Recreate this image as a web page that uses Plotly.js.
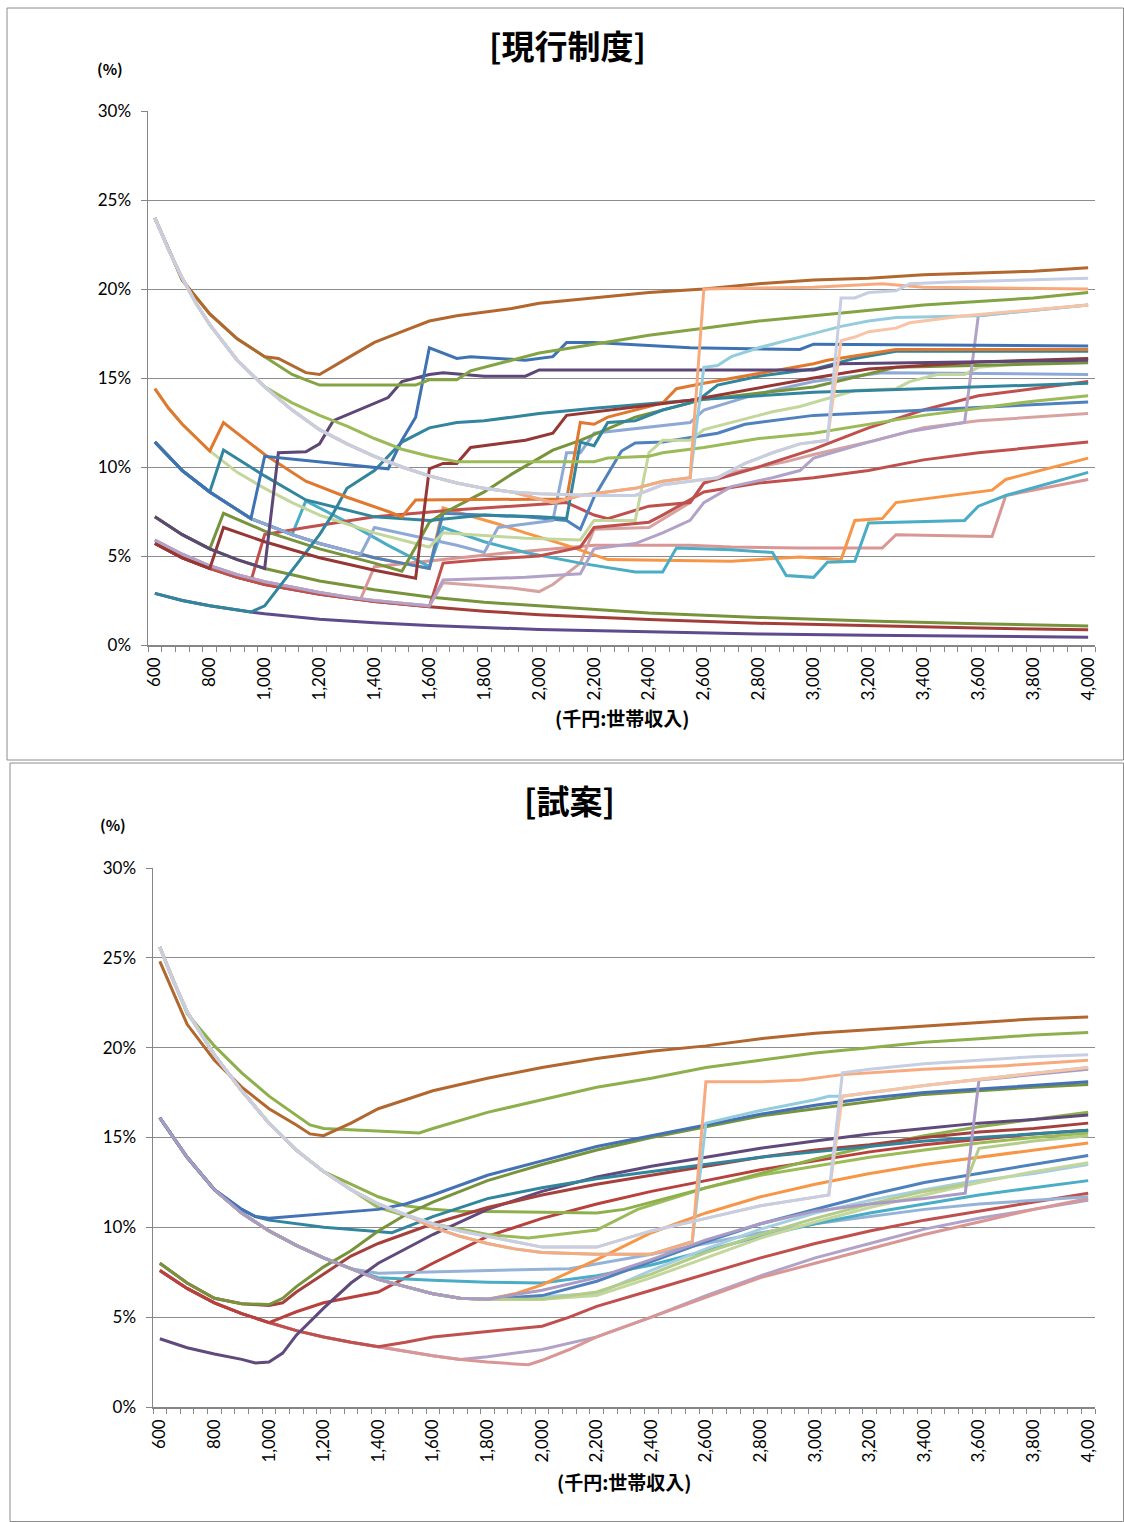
<!DOCTYPE html>
<html><head><meta charset="utf-8">
<script src="https://cdn.plot.ly/plotly-3.0.1.min.js"></script>
<style>html,body{margin:0;padding:0;background:#fff}#c{width:1124px;height:1522px}</style>
</head><body><div id="c"></div>
<script>
// ---------- shared tick labels ----------
const tickVals = [600,800,1000,1200,1400,1600,1800,2000,2200,2400,2600,2800,3000,3200,3400,3600,3800,4000];
const tickText = ["600","800","1,000","1,200","1,400","1,600","1,800","2,000","2,200","2,400","2,600","2,800","3,000","3,200","3,400","3,600","3,800","4,000"];

// ---------- TOP chart (現行制度): common starting curves, [income, %] ----------
const TA = [[600,24.0],[650,22.2],[700,20.6],[750,19.2],[800,18.0],[900,16.0],[1000,14.5],[1100,13.2],[1200,12.1],[1300,11.3],[1400,10.6],[1500,10.0],[1600,9.5],[1700,9.1],[1800,8.8],[1900,8.6],[2000,8.5]];
const TB = [[600,14.4],[650,13.3],[700,12.4],[800,10.9],[900,9.7],[1000,8.8],[1100,8.0],[1200,7.3],[1300,6.8],[1400,6.3],[1500,5.9],[1600,5.5]];
const TC = [[600,11.4],[700,9.8],[800,8.6],[900,7.6],[950,7.1],[1000,6.8],[1100,6.2],[1200,5.7],[1300,5.3],[1350,5.1],[1400,4.9],[1500,4.6],[1600,4.3]];
const TD = [[600,7.2],[700,6.2],[800,5.4],[900,4.8],[1000,4.3],[1200,3.6],[1400,3.1],[1600,2.7],[1800,2.4],[2000,2.2],[2400,1.8],[2800,1.55],[3200,1.35],[3600,1.2],[4000,1.07]];
const TE = [[600,5.9],[700,5.1],[800,4.45],[900,3.95],[1000,3.55],[1100,3.25],[1200,2.95],[1300,2.7],[1400,2.5],[1500,2.35],[1600,2.2]];
const TF = [[600,5.7],[700,4.9],[800,4.3],[900,3.8],[950,3.6],[1000,3.4],[1200,2.85],[1400,2.45],[1600,2.15],[1800,1.9],[2000,1.7],[2400,1.43],[2800,1.22],[3200,1.07],[3600,0.95],[4000,0.85]];
const TG = [[600,2.9],[700,2.5],[800,2.2],[900,1.95],[950,1.85],[1000,1.75],[1200,1.45],[1400,1.25],[1600,1.1],[2000,0.87],[2400,0.73],[2800,0.62],[3200,0.55],[3600,0.49],[4000,0.44]];

// branch tails of the top chart
const tBrown = [[600,24],[700,20.5],[800,18.6],[900,17.2],[1000,16.2],[1050,16.1],[1150,15.3],[1200,15.2],[1300,16.1],[1400,17.0],[1500,17.6],[1600,18.2],[1700,18.5],[1800,18.7],[1900,18.9],[2000,19.2],[2200,19.5],[2400,19.8],[2600,20.0],[2800,20.3],[3000,20.5],[3200,20.6],[3400,20.8],[3600,20.9],[3800,21.0],[4000,21.2]];
const tOlive = [[600,24],[700,20.5],[800,18.6],[900,17.2],[1000,16.2],[1100,15.2],[1150,14.9],[1200,14.6],[1550,14.6],[1600,14.9],[1700,14.9],[1750,15.4],[1900,16.0],[2000,16.4],[2200,16.9],[2400,17.4],[2600,17.8],[2800,18.2],[3000,18.5],[3200,18.8],[3400,19.1],[3600,19.3],[3800,19.5],[4000,19.8]];
const tGreyTail = [[2200,8.4],[2350,8.4],[2450,9.0],[2650,9.4],[2750,10.2],[2850,10.8],[2950,11.3],[3050,11.5],[3100,19.5],[3150,19.5],[3200,19.8],[3300,19.9],[3350,20.3],[3500,20.4],[4000,20.6]];
const tPeachTail = [[2000,8.2],[2050,8.0],[2150,8.4],[2350,8.8],[2450,9.2],[2550,9.4],[2600,20.0],[3000,20.1],[3250,20.3],[3400,20.1],[4000,20.0]];
const tLBlueTail = [[2000,8.2],[2050,8.0],[2150,8.4],[2350,8.8],[2450,9.2],[2550,9.4],[2600,15.6],[2650,15.7],[2700,16.2],[2800,16.7],[2900,17.1],[3000,17.5],[3100,17.9],[3200,18.2],[3300,18.4],[3600,18.5],[4000,19.1]];
const tLPeachTail = [[2200,8.4],[2350,8.4],[2450,9.0],[2650,9.4],[2750,10.2],[2850,10.8],[2950,11.3],[3050,11.5],[3100,17.1],[3150,17.3],[3200,17.6],[3300,17.8],[3350,18.1],[3550,18.5],[4000,19.1]];
const tGreenTail = [[1100,13.6],[1200,12.9],[1300,12.3],[1400,11.6],[1500,11.0],[1600,10.6],[1700,10.3],[2200,10.3],[2250,10.5],[2400,10.6],[2450,10.8],[2600,11.1],[2800,11.6],[3000,11.9],[3200,12.4],[3400,12.9],[3600,13.3],[3800,13.7],[4000,14.0]];
const tBlueTail = [[1000,10.6],[1200,10.3],[1450,9.9],[1500,11.5],[1550,12.8],[1600,16.7],[1700,16.1],[1750,16.2],[1950,16.0],[2050,16.2],[2100,17.0],[2200,17.0],[2550,16.7],[2950,16.6],[3000,16.9],[4000,16.8]];
const tDPurpleTail = [[1050,10.8],[1150,10.85],[1200,11.3],[1250,12.6],[1450,13.9],[1500,14.8],[1600,15.2],[1650,15.3],[1800,15.1],[1950,15.1],[2000,15.45],[3000,15.45],[3100,15.8],[4000,16.0]];
const tDRedTail = [[850,6.6],[1000,5.8],[1200,4.9],[1400,4.2],[1550,3.75],[1600,9.9],[1650,10.2],[1700,10.2],[1750,11.1],[1950,11.5],[2050,11.9],[2100,12.9],[2550,13.75],[3000,15.0],[3200,15.5],[3600,15.9],[4000,16.1]];
const tTeal1Tail = [[1000,2.2],[1100,4.2],[1200,6.2],[1250,7.4],[1300,8.8],[1400,9.8],[1500,11.4],[1600,12.2],[1700,12.5],[1800,12.6],[1900,12.8],[2000,13.0],[2200,13.3],[2600,13.8],[3000,14.2],[4000,14.7]];
const tTeal2Tail = [[850,10.95],[1000,9.5],[1150,8.15],[1400,7.2],[1600,7.0],[1800,7.3],[2000,7.2],[2100,7.1],[2150,11.4],[2200,11.2],[2250,12.5],[2350,12.6],[2450,13.2],[2550,13.6],[2600,14.0],[2650,14.6],[2800,15.1],[3000,15.5],[3150,16.1],[3300,16.5],[4000,16.5]];
const tOrangeDTail = [[850,12.5],[1000,10.7],[1150,9.2],[1300,8.3],[1450,7.5],[1500,7.2],[1550,8.15],[1950,8.2],[2100,8.2],[2150,12.5],[2200,12.4],[2250,12.8],[2450,13.6],[2500,14.4],[2600,14.7],[3000,15.8],[3050,16.0],[3300,16.6],[4000,16.6]];
const tPGreenTail = [[1650,6.3],[1950,6.0],[2150,5.9],[2200,7.0],[2350,7.0],[2400,10.8],[2450,11.5],[2550,11.5],[2600,12.1],[2700,12.5],[2850,13.1],[2950,13.4],[3150,14.3],[3300,14.4],[3350,14.8],[3450,15.2],[3550,15.2],[3600,15.6],[4000,16.1]];
const tLavTail = [[1650,3.65],[1950,3.8],[2150,4.0],[2200,5.4],[2350,5.7],[2450,6.3],[2550,7.0],[2600,8.0],[2700,8.9],[2850,9.4],[2950,9.8],[3000,10.5],[3200,11.4],[3350,12.0],[3550,12.5],[3600,18.5],[4000,19.1]];
const tOlive2Tail = [[850,7.4],[1000,6.4],[1200,5.4],[1400,4.6],[1500,4.15],[1550,5.5],[1600,6.9],[1650,7.4],[1800,8.6],[1900,9.6],[2050,10.95],[2150,11.5],[2350,12.8],[2600,13.8],[3000,14.5],[3300,15.6],[4000,15.85]];
const tAquaTail = [[1150,8.1],[1300,6.9],[1450,5.6],[1600,4.4],[1650,6.6],[1800,5.8],[1950,5.2],[2150,4.6],[2350,4.1],[2450,4.1],[2500,5.45],[2700,5.35],[2850,5.2],[2900,3.9],[3000,3.8],[3050,4.65],[3150,4.7],[3200,6.85],[3550,7.0],[3600,7.8],[3700,8.4],[4000,9.7]];
const tLOrangeTail = [[1650,7.7],[1850,6.8],[1950,6.3],[2100,5.6],[2250,4.8],[2700,4.7],[2950,4.95],[3100,4.8],[3150,7.0],[3250,7.1],[3300,8.0],[3650,8.7],[3700,9.3],[3950,10.3],[4000,10.5]];
const tPink1Tail = [[1350,2.6],[1400,4.4],[1900,5.2],[2200,5.6],[2550,5.6],[2700,5.5],[2950,5.45],[3250,5.45],[3300,6.2],[3650,6.1],[3700,8.4],[4000,9.3]];
const tPink2Tail = [[1650,3.5],[1900,3.2],[2000,3.0],[2050,3.4],[2150,4.6],[2200,6.5],[2400,6.6],[2550,8.0],[2600,9.1],[2700,9.7],[2900,10.3],[3000,10.7],[3200,11.4],[3400,12.2],[3600,12.6],[4000,13.0]];
const tPeriTail = [[1400,6.6],[1700,5.6],[1800,5.2],[1850,6.6],[2000,6.9],[2050,7.0],[2100,10.8],[2150,10.8],[2200,11.9],[2550,12.5],[2600,13.2],[2750,13.9],[2850,14.3],[3000,14.8],[3250,15.3],[4000,15.2]];
const tRed1Tail = [[1000,6.2],[1150,6.6],[1400,7.2],[1700,7.6],[2000,7.9],[2100,8.0],[2200,7.3],[2250,7.1],[2400,7.8],[2550,8.0],[2600,9.1],[2800,10.0],[3000,11.0],[3200,12.2],[3400,13.2],[3600,14.0],[4000,14.8]];
const tRed2Tail = [[1650,4.6],[1800,4.8],[2000,5.0],[2150,5.5],[2200,6.6],[2400,6.9],[2450,7.3],[2600,8.6],[2800,9.1],[3000,9.4],[3200,9.8],[3400,10.4],[3600,10.8],[4000,11.4]];
const tBlue2Tail = [[1650,7.4],[1950,7.2],[2100,7.0],[2150,6.5],[2200,8.3],[2300,10.9],[2350,11.35],[2450,11.4],[2650,11.9],[2750,12.4],[3000,12.9],[3400,13.2],[3800,13.5],[4000,13.65]];

// ---------- BOTTOM chart (試案) ----------
const BA = [[600,25.6],[650,23.7],[700,22.0],[800,19.6],[900,17.6],[1000,15.8],[1100,14.3],[1200,13.1],[1300,12.1],[1400,11.3],[1500,10.7],[1600,10.2],[1700,9.8],[1800,9.5],[1900,9.2],[2000,8.9]];
const BB = [[600,16.1],[700,13.9],[800,12.1],[900,10.8],[1000,9.8],[1100,9.0],[1200,8.3],[1300,7.7],[1400,7.1],[1500,6.7],[1600,6.3],[1700,6.05],[1800,6.0]];
const BD = [[600,8.0],[700,6.9],[800,6.05]];
const BE = [[600,7.6],[700,6.6],[800,5.8],[900,5.2],[1000,4.7],[1100,4.25],[1200,3.9],[1300,3.6],[1400,3.35],[1500,3.1],[1600,2.85],[1700,2.65],[1800,2.5],[1900,2.4],[1950,2.35]];

const bBrown = [[600,24.8],[650,23.0],[700,21.3],[800,19.3],[900,17.8],[1000,16.6],[1100,15.7],[1150,15.2],[1200,15.1],[1300,15.8],[1400,16.6],[1500,17.1],[1600,17.6],[1800,18.3],[2000,18.9],[2200,19.4],[2400,19.8],[2600,20.1],[2800,20.5],[3000,20.8],[3200,21.0],[3400,21.2],[3600,21.4],[3800,21.6],[4000,21.7]];
const bGreen = [[600,25.6],[650,23.7],[700,21.9],[800,20.1],[900,18.6],[1000,17.3],[1100,16.2],[1150,15.7],[1200,15.5],[1550,15.25],[1600,15.5],[1800,16.4],[2000,17.1],[2200,17.8],[2400,18.3],[2600,18.9],[2800,19.3],[3000,19.7],[3200,20.0],[3400,20.3],[3600,20.5],[3800,20.7],[4000,20.85]];
const bGreyTail = [[2200,8.9],[2400,9.8],[2600,10.5],[2800,11.2],[3050,11.8],[3100,18.6],[3200,18.8],[3400,19.1],[3600,19.3],[3800,19.5],[4000,19.6]];
const bPeachTail = [[1600,10.0],[1700,9.5],[1800,9.1],[1900,8.8],[2000,8.6],[2200,8.5],[2400,8.5],[2550,9.2],[2600,18.1],[2800,18.1],[2950,18.2],[3100,18.5],[3400,18.8],[3700,19.0],[4000,19.3]];
const bLBlueTail = [[1600,10.0],[1700,9.5],[1800,9.1],[1900,8.8],[2000,8.6],[2200,8.5],[2400,8.5],[2550,9.2],[2600,15.8],[2800,16.5],[3000,17.1],[3050,17.3],[3100,17.3],[3400,17.9],[3700,18.4],[4000,18.9]];
const bLPeachTail = [[2200,8.9],[2400,9.8],[2600,10.5],[2800,11.2],[3050,11.8],[3100,17.3],[3400,17.9],[3700,18.4],[4000,18.9]];
const bLav2Tail = [[2000,6.5],[2200,7.2],[2400,8.2],[2600,9.3],[2800,10.2],[3000,10.9],[3200,11.3],[3400,11.6],[3550,11.9],[3600,18.2],[3800,18.5],[4000,18.8]];
const bBlue = [[600,16.1],[700,13.9],[800,12.1],[900,11.0],[950,10.6],[1000,10.5],[1400,11.0],[1500,11.3],[1600,11.8],[1800,12.9],[2000,13.7],[2200,14.5],[2400,15.1],[2600,15.7],[2800,16.3],[3000,16.8],[3200,17.2],[3400,17.5],[3600,17.7],[3800,17.9],[4000,18.1]];
const bOliveTail = [[900,5.75],[1000,5.7],[1050,6.05],[1100,6.7],[1200,7.8],[1300,8.7],[1400,9.8],[1500,10.7],[1600,11.4],[1800,12.6],[2000,13.5],[2200,14.3],[2400,15.0],[2600,15.6],[2800,16.2],[3000,16.6],[3200,17.0],[3400,17.4],[3600,17.6],[3800,17.8],[4000,17.95]];
const bTeal = [[600,16.1],[700,13.9],[800,12.1],[900,11.0],[950,10.6],[1000,10.4],[1200,10.0],[1400,9.75],[1450,9.7],[1500,10.0],[1600,10.6],[1800,11.6],[2000,12.2],[2200,12.7],[2400,13.1],[2600,13.5],[2800,13.9],[3000,14.2],[3200,14.5],[3400,14.8],[3600,15.0],[3800,15.2],[4000,15.4]];
const bDRedTail = [[900,5.75],[1000,5.65],[1050,5.8],[1100,6.4],[1200,7.4],[1300,8.4],[1400,9.1],[1600,10.2],[1800,11.1],[2000,11.8],[2200,12.4],[2400,12.9],[2600,13.4],[2800,13.9],[3000,14.3],[3200,14.6],[3400,15.0],[3600,15.3],[3800,15.5],[4000,15.8]];
const bPurple = [[600,3.8],[700,3.3],[800,2.95],[900,2.65],[950,2.45],[1000,2.5],[1050,3.0],[1100,4.0],[1200,5.5],[1300,6.9],[1400,8.0],[1600,9.6],[1800,11.0],[2000,12.0],[2200,12.8],[2400,13.4],[2600,13.9],[2800,14.4],[3000,14.8],[3200,15.2],[3400,15.5],[3600,15.8],[3800,16.0],[4000,16.25]];
const bRed1Tail = [[1500,3.6],[1600,3.9],[1800,4.2],[2000,4.5],[2100,5.0],[2200,5.6],[2400,6.5],[2600,7.4],[2800,8.3],[3000,9.1],[3200,9.8],[3400,10.4],[3600,10.9],[3800,11.4],[4000,11.9]];
const bRed2Tail = [[1100,5.3],[1200,5.8],[1300,6.1],[1400,6.4],[1500,7.2],[1600,8.0],[1800,9.5],[2000,10.5],[2200,11.3],[2400,12.0],[2600,12.6],[2800,13.2],[3000,13.7],[3200,14.2],[3400,14.6],[3600,14.9],[3800,15.2],[4000,15.4]];
const bPinkTail = [[2000,2.6],[2100,3.2],[2200,3.9],[2400,5.0],[2600,6.1],[2800,7.2],[3000,8.0],[3200,8.8],[3400,9.6],[3600,10.3],[3800,11.0],[4000,11.6]];
const bLavTail = [[1800,2.8],[2000,3.2],[2200,3.9],[2400,5.0],[2600,6.2],[2800,7.3],[3000,8.3],[3200,9.1],[3400,9.9],[3600,10.5],[3800,11.0],[4000,11.5]];
const bSteelTail = [[1400,7.45],[1800,7.6],[2100,7.7],[2400,8.5],[2600,9.1],[2800,9.7],[3000,10.2],[3200,10.6],[3400,11.0],[3600,11.3],[3800,11.5],[4000,11.7]];
const bBlue2Tail = [[2000,6.2],[2200,7.0],[2400,8.1],[2600,9.2],[2800,10.2],[3000,11.0],[3200,11.8],[3400,12.5],[3600,13.0],[3800,13.5],[4000,14.0]];
const bOrangeTail = [[1900,6.3],[2000,6.8],[2200,8.2],[2400,9.7],[2600,10.8],[2800,11.7],[3000,12.4],[3200,13.0],[3400,13.5],[3600,13.9],[3800,14.3],[4000,14.7]];
const bAquaTail = [[1400,7.2],[1600,7.05],[1800,6.95],[2000,6.9],[2200,7.3],[2400,7.9],[2600,8.7],[2800,9.5],[3000,10.2],[3200,10.8],[3400,11.3],[3600,11.8],[3800,12.2],[4000,12.6]];
const bLBlue2Tail = [[2200,6.3],[2400,7.6],[2600,8.8],[2800,9.9],[3000,10.8],[3200,11.5],[3400,12.1],[3550,12.5],[3800,13.0],[4000,13.5]];
const bPGreen1Tail = [[2000,6.0],[2200,6.4],[2400,7.4],[2600,8.6],[2800,9.6],[3000,10.5],[3200,11.3],[3400,12.0],[3550,12.4],[3600,14.4],[3800,14.8],[4000,15.1]];
const bPGreen2Tail = [[2000,6.0],[2200,6.2],[2400,7.2],[2600,8.3],[2800,9.4],[3000,10.3],[3200,11.1],[3400,11.8],[3600,12.5],[3800,13.1],[4000,13.6]];
const bGreen2Tail = [[1300,12.4],[1400,11.7],[1500,11.2],[1600,11.0],[1700,10.9],[2200,10.8],[2300,11.0],[2400,11.4],[2600,12.2],[2800,13.0],[3000,13.8],[3200,14.5],[3400,15.1],[3600,15.6],[3800,16.0],[4000,16.4]];
const bGreen3Tail = [[1400,11.1],[1600,10.2],[1800,9.6],[1950,9.4],[2200,9.85],[2350,11.0],[2600,12.2],[2800,12.9],[3000,13.4],[3200,13.9],[3400,14.3],[3600,14.7],[3800,15.0],[4000,15.25]];

// ---------- helpers ----------
const upto = (fam, x) => fam.filter(p => p[0] <= x);
const join = (...parts) => [].concat(...parts);
function tr(pts, color, sub) {
  return {x: pts.map(p => p[0]), y: pts.map(p => p[1] / 100), type: 'scatter', mode: 'lines',
    line: {color: color, width: 3}, xaxis: sub ? 'x2' : 'x', yaxis: sub ? 'y2' : 'y', hoverinfo: 'skip', showlegend: false};
}

const topSeries = [
  [TG, '#5F4A8B'],
  [TF, '#A33D3A'],
  [TD, '#77933C'],
  [join(upto(TE,1300), tPink1Tail), '#D99694'],
  [join(upto(TE,1600), tPink2Tail), '#D6A3A1'],
  [join(upto(TC,1600), tLOrangeTail), '#F79646'],
  [join(upto(TC,1100), tAquaTail), '#4BACC6'],
  [join(upto(TF,950), tRed1Tail), '#C0504D'],
  [join(upto(TF,1600), tRed2Tail), '#C0504D'],
  [join(upto(TC,1600), tBlue2Tail), '#4F81BD'],
  [join(upto(TC,1350), tPeriTail), '#8EA9D6'],
  [join(upto(TB,1600), tPGreenTail), '#C3D69B'],
  [join(upto(TD,800), tOlive2Tail), '#77933C'],
  [join(upto(TE,1600), tLavTail), '#B3A2C7'],
  [join(upto(TG,950), tTeal1Tail), '#31859C'],
  [join(upto(TC,800), tTeal2Tail), '#31859C'],
  [join(upto(TB,800), tOrangeDTail), '#E0782F'],
  [join(upto(TF,800), tDRedTail), '#953735'],
  [join(upto(TD,1000), tDPurpleTail), '#5C4776'],
  [join(upto(TC,950), tBlueTail), '#3F72B2'],
  [join(upto(TA,1000), tGreenTail), '#9BBB59'],
  [tOlive, '#84A444'],
  [tBrown, '#B1672E'],
  [join(upto(TA,1900), tLBlueTail), '#93CDDD'],
  [join(upto(TA,1900), tPeachTail), '#F7AA7E'],
  [join(TA, tLPeachTail), '#F9C3A5'],
  [join(TA, tGreyTail), '#C5CEE2']
];

const botSeries = [
  [join(upto(BE,1700), bLavTail), '#B3A2C7'],
  [join(upto(BE,1950), bPinkTail), '#D99694'],
  [join(upto(BE,1400), bRed1Tail), '#C0504D'],
  [join(upto(BE,1000), bRed2Tail), '#B8403D'],
  [join(upto(BB,1300), bSteelTail), '#95B3D7'],
  [join(upto(BB,1300), bAquaTail), '#4BACC6'],
  [join(upto(BB,1800), bLBlue2Tail), '#A5CFE0'],
  [join(upto(BB,1800), bPGreen2Tail), '#C3D69B'],
  [join(upto(BB,1800), bBlue2Tail), '#4F81BD'],
  [join(upto(BB,1800), bOrangeTail), '#F79646'],
  [join(upto(BB,1800), bPGreen1Tail), '#B5CC88'],
  [join(upto(BA,1300), bGreen3Tail), '#9BBB59'],
  [join(upto(BA,1200), bGreen2Tail), '#8DB04C'],
  [bPurple, '#604A7B'],
  [join(BD, bDRedTail), '#A5403D'],
  [bTeal, '#31859C'],
  [join(BD, bOliveTail), '#77933C'],
  [bBlue, '#4472B4'],
  [join(upto(BB,1800), bLav2Tail), '#A99BC4'],
  [bGreen, '#8DB04C'],
  [bBrown, '#B1672E'],
  [join(upto(BA,1500), bLBlueTail), '#93CDDD'],
  [join(upto(BA,1500), bPeachTail), '#F7AA7E'],
  [join(BA, bLPeachTail), '#F9C3A5'],
  [join(BA, bGreyTail), '#C5CEE2']
];

const data = [];
topSeries.forEach(s => data.push(tr(s[0], s[1], false)));
botSeries.forEach(s => data.push(tr(s[0], s[1], true)));

const W = 1124, H = 1522;
const px = v => v / W, py = v => 1 - v / H;
const tickFont = {family: 'Lato, "Liberation Sans", sans-serif', size: 17, color: '#000'};
function xax(dom, anchor) {
  return {domain: dom, anchor: anchor, range: [575, 4025], showgrid: false, zeroline: false,
    showline: true, linecolor: '#868686', linewidth: 1.5, ticks: '', tickmode: 'array',
    tickvals: tickVals, ticktext: tickText, tickangle: -90, tickfont: tickFont, ticklabelstandoff: 4,
    minor: {tickmode: 'linear', tick0: 575, dtick: 50, ticks: 'outside', ticklen: 5, tickcolor: '#868686', tickwidth: 1, showgrid: false}};
}
function yax(dom, anchor) {
  return {domain: dom, anchor: anchor, range: [0, 0.30], dtick: 0.05, tick0: 0, tickformat: '.0%',
    showgrid: true, gridcolor: '#8C8C8C', gridwidth: 1, zeroline: false, showline: true,
    linecolor: '#868686', linewidth: 1.5, ticks: 'outside', ticklen: 6, tickcolor: '#868686',
    tickfont: tickFont, ticklabelstandoff: 6};
}

const cjk = '"Noto Sans CJK JP", "Noto Sans", sans-serif';
const layout = {
  width: W, height: H, margin: {l: 0, r: 0, t: 0, b: 0}, paper_bgcolor: '#fff', plot_bgcolor: '#fff',
  xaxis: xax([px(148), px(1095)], 'y'),
  yaxis: yax([py(645), py(111)], 'x'),
  xaxis2: xax([px(153), px(1095)], 'y2'),
  yaxis2: yax([py(1407), py(868)], 'x2'),
  shapes: [
    {type: 'rect', xref: 'paper', yref: 'paper', x0: px(7), x1: px(1123.5), y0: py(760), y1: py(8), line: {color: '#8C8C8C', width: 1}},
    {type: 'rect', xref: 'paper', yref: 'paper', x0: px(10), x1: px(1123.5), y0: py(1521.5), y1: py(763), line: {color: '#8C8C8C', width: 1}}
  ],
  annotations: [
    {text: '<b>[現行制度]</b>', xref: 'paper', yref: 'paper', x: px(567), y: py(45), showarrow: false, font: {family: cjk, size: 33, color: '#000'}, xanchor: 'center', yanchor: 'middle'},
    {text: '<b>(%)</b>', xref: 'paper', yref: 'paper', x: px(110), y: py(68), showarrow: false, font: {family: cjk, size: 15, color: '#000'}, xanchor: 'center', yanchor: 'middle'},
    {text: '<b>(千円:世帯収入)</b>', xref: 'paper', yref: 'paper', x: px(622), y: py(718), showarrow: false, font: {family: cjk, size: 19, color: '#000'}, xanchor: 'center', yanchor: 'middle'},
    {text: '<b>[試案]</b>', xref: 'paper', yref: 'paper', x: px(569), y: py(800), showarrow: false, font: {family: cjk, size: 33, color: '#000'}, xanchor: 'center', yanchor: 'middle'},
    {text: '<b>(%)</b>', xref: 'paper', yref: 'paper', x: px(113), y: py(824), showarrow: false, font: {family: cjk, size: 15, color: '#000'}, xanchor: 'center', yanchor: 'middle'},
    {text: '<b>(千円:世帯収入)</b>', xref: 'paper', yref: 'paper', x: px(624), y: py(1481), showarrow: false, font: {family: cjk, size: 19, color: '#000'}, xanchor: 'center', yanchor: 'middle'}
  ]
};

Plotly.newPlot('c', data, layout, {displayModeBar: false, staticPlot: true});
</script>
</body></html>
